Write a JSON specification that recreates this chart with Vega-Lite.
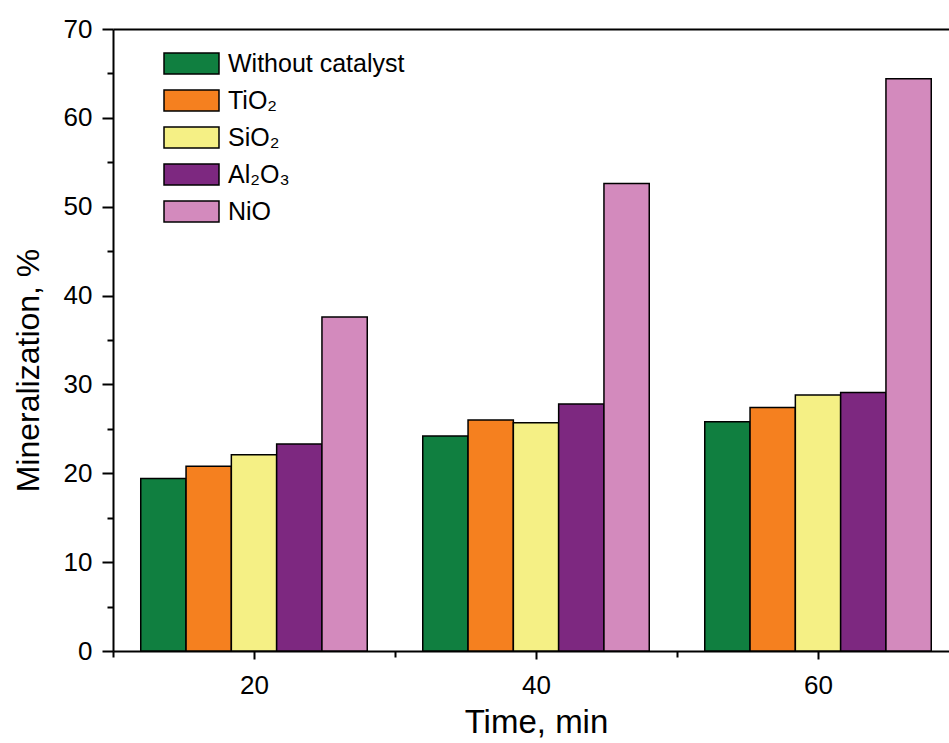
{
  "$schema": "https://vega.github.io/schema/vega-lite/v6.json",
  "autosize": {"type": "none"},
  "padding": {"left": 113, "top": 29, "right": 0, "bottom": 92},
  "width": 836,
  "height": 622,
  "background": "white",
  "config": {
    "view": {"stroke": null},
    "font": "Liberation Sans",
    "axis": {"domainColor": "black", "domainWidth": 2, "tickColor": "black", "tickWidth": 2, "labelColor": "black", "titleColor": "black", "grid": false, "labelFont": "Liberation Sans", "titleFont": "Liberation Sans", "titleFontWeight": "normal"}
  },
  "data": {"values": [
    {"Time": 20, "Catalyst": "Without catalyst", "Mineralization": 19.4},
    {"Time": 20, "Catalyst": "TiO₂", "Mineralization": 20.8},
    {"Time": 20, "Catalyst": "SiO₂", "Mineralization": 22.1},
    {"Time": 20, "Catalyst": "Al₂O₃", "Mineralization": 23.3},
    {"Time": 20, "Catalyst": "NiO", "Mineralization": 37.6},
    {"Time": 40, "Catalyst": "Without catalyst", "Mineralization": 24.2},
    {"Time": 40, "Catalyst": "TiO₂", "Mineralization": 26.0},
    {"Time": 40, "Catalyst": "SiO₂", "Mineralization": 25.7},
    {"Time": 40, "Catalyst": "Al₂O₃", "Mineralization": 27.8},
    {"Time": 40, "Catalyst": "NiO", "Mineralization": 52.6},
    {"Time": 60, "Catalyst": "Without catalyst", "Mineralization": 25.8},
    {"Time": 60, "Catalyst": "TiO₂", "Mineralization": 27.4},
    {"Time": 60, "Catalyst": "SiO₂", "Mineralization": 28.8},
    {"Time": 60, "Catalyst": "Al₂O₃", "Mineralization": 29.1},
    {"Time": 60, "Catalyst": "NiO", "Mineralization": 64.4}
  ]},
  "encoding": {
    "y": {
      "field": "Mineralization", "type": "quantitative",
      "scale": {"domain": [0, 70], "nice": false, "zero": true},
      "axis": {
        "values": [0, 5, 10, 15, 20, 25, 30, 35, 40, 45, 50, 55, 60, 65, 70],
        "tickSize": {"condition": {"test": "datum.value % 10 === 0", "value": 11}, "value": 6},
        "labelExpr": "datum.value % 10 === 0 ? datum.label : ''",
        "labelFontSize": 26, "labelPadding": 10,
        "title": "Mineralization, %", "titleFontSize": 32, "titlePadding": 18, "titleY": 341
      }
    }
  },
  "layer": [
    {
      "mark": {"type": "bar", "stroke": "black", "strokeWidth": 1.5},
      "encoding": {
        "x": {
          "field": "Time", "type": "ordinal",
          "scale": {"domain": [20, 40, 60], "range": [0, 846], "paddingInner": 0, "paddingOuter": 0},
          "axis": {"orient": "top", "labels": false, "ticks": false, "domain": true, "title": null}
        },
        "xOffset": {
          "field": "Catalyst", "type": "nominal",
          "scale": {"domain": ["Without catalyst", "TiO₂", "SiO₂", "Al₂O₃", "NiO"], "paddingInner": 0, "paddingOuter": 0.6125}
        },
        "color": {
          "field": "Catalyst", "type": "nominal",
          "scale": {"domain": ["Without catalyst", "TiO₂", "SiO₂", "Al₂O₃", "NiO"], "range": ["#107F40", "#F5801F", "#F5F085", "#7D2880", "#D38ABD"]},
          "legend": {
            "orient": "none", "legendX": 64, "legendY": 20, "title": null,
            "symbolType": "M-2,-0.76H2V0.76H-2Z", "symbolSize": 756, "symbolStrokeColor": "black", "symbolStrokeWidth": 1.5, "symbolOpacity": 1,
            "labelFont": "Liberation Sans", "labelFontSize": 25, "labelColor": "black", "labelOffset": 22, "labelLimit": 0, "rowPadding": 9
          }
        }
      }
    },
    {
      "mark": {"type": "point", "opacity": 0},
      "encoding": {
        "x": {
          "field": "Time", "type": "quantitative",
          "scale": {"domain": [10, 70], "range": [0, 846], "nice": false, "zero": false},
          "axis": {
            "orient": "bottom",
            "values": [10, 20, 30, 40, 50, 60, 70],
            "tickSize": {"condition": {"test": "datum.value % 20 === 0", "value": 8}, "value": 6},
            "labelExpr": "datum.value % 20 === 0 ? datum.label : ''",
            "labelFontSize": 26, "labelPadding": 13, "domain": true,
            "title": "Time, min", "titleFontSize": 33, "titlePadding": 8
          }
        }
      }
    }
  ],
  "resolve": {"scale": {"x": "independent"}, "axis": {"x": "independent"}}
}
